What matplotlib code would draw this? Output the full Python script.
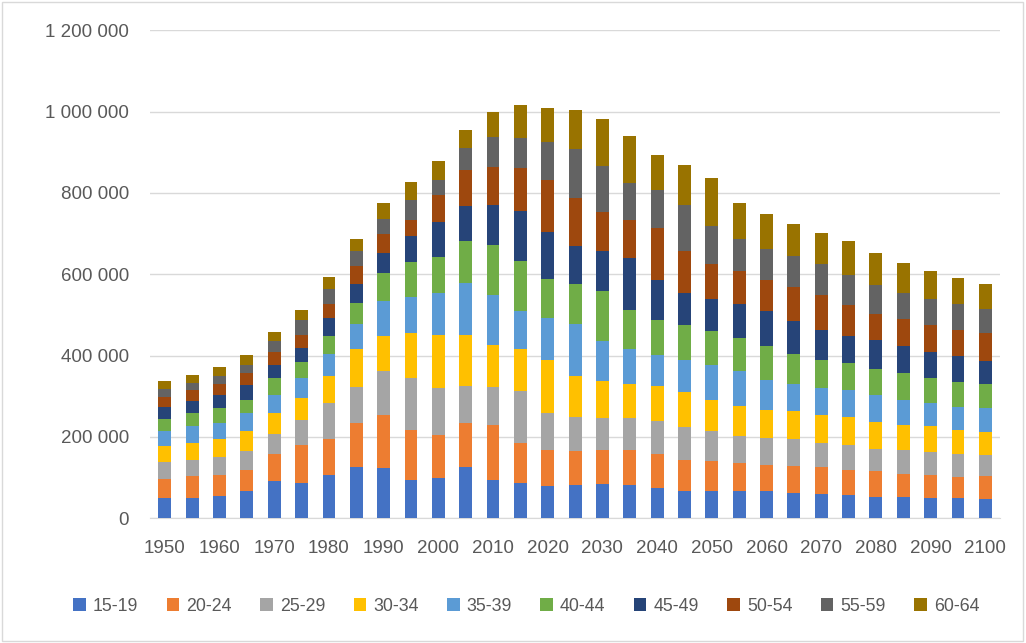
import matplotlib
matplotlib.use("Agg")
import matplotlib.pyplot as plt
import matplotlib.ticker as ticker
import numpy as np

# ── data (thousands) ─────────────────────────────────────────────────────
years = list(range(1950, 2101, 5))
age_groups = ["15-19", "20-24", "25-29", "30-34", "35-39",
              "40-44", "45-49", "50-54", "55-59", "60-64"]

a15_19 = [50, 50, 54, 66, 91, 87, 106, 125, 124, 94, 98, 127, 94, 87, 79, 81,
          84, 82, 74, 67, 66, 66, 66, 62, 59, 56, 53, 53, 51, 49, 48]
a20_24 = [47, 53, 52, 53, 67, 94, 90, 109, 131, 123, 107, 107, 135, 98, 90, 84,
          85, 86, 85, 76, 74, 70, 66, 66, 66, 63, 63, 57, 56, 53, 55]
a25_29 = [42, 41, 45, 47, 49, 61, 88, 88, 108, 129, 115, 90, 94, 127, 90, 84,
          78, 78, 79, 82, 74, 66, 65, 66, 60, 60, 54, 58, 57, 55, 53]
a30_34 = [39, 41, 45, 49, 52, 53, 66, 93, 86, 109, 131, 127, 103, 103, 131, 101,
          90, 84, 86, 86, 78, 74, 70, 70, 70, 69, 67, 62, 62, 60, 56]
a35_39 = [37, 41, 38, 43, 45, 49, 53, 62, 86, 90, 102, 127, 123, 94, 102, 127,
          98, 85, 78, 78, 86, 86, 74, 66, 65, 68, 66, 62, 57, 57, 59]
a40_44 = [30, 33, 37, 33, 41, 41, 45, 53, 67, 86, 90, 103, 123, 123, 97, 98,
          123, 98, 86, 86, 82, 82, 82, 74, 70, 65, 64, 65, 63, 62, 58]
a45_49 = [29, 30, 33, 37, 31, 33, 45, 45, 49, 62, 86, 86, 98, 123, 116, 94,
          98, 127, 98, 78, 78, 82, 86, 82, 74, 66, 71, 66, 64, 62, 57]
a50_54 = [25, 27, 25, 29, 33, 33, 33, 45, 49, 41, 66, 90, 94, 107, 127, 119,
          98, 94, 127, 103, 86, 82, 78, 82, 86, 78, 65, 66, 66, 66, 70]
a55_59 = [20, 16, 20, 21, 26, 37, 37, 37, 37, 49, 37, 53, 74, 74, 94, 119,
          111, 90, 94, 115, 94, 78, 74, 78, 74, 74, 70, 65, 62, 62, 58]
a60_64 = [18, 20, 22, 23, 23, 25, 29, 29, 37, 43, 47, 45, 60, 80, 82, 96,
          117, 115, 86, 98, 119, 90, 86, 78, 78, 82, 78, 74, 70, 65, 62]

series = [a15_19, a20_24, a25_29, a30_34, a35_39,
          a40_44, a45_49, a50_54, a55_59, a60_64]
colors = ["#4472C4", "#ED7D31", "#A5A5A5", "#FFC000", "#5B9BD5",
          "#70AD47", "#264478", "#9E480E", "#636363", "#997300"]

TEXT = "#595959"
FS = 13.5
plt.rcParams.update({
    "font.family": ["Liberation Sans", "DejaVu Sans"],
    "font.size": FS,
})

fig = plt.figure(figsize=(10.26, 6.43), dpi=100)
ax = fig.add_axes([0.146, 0.194, 0.829, 0.759])

x = np.arange(len(years))
bottom = np.zeros(len(years))
for label, vals, col in zip(age_groups, series, colors):
    v = np.array(vals) * 1000
    ax.bar(x, v, width=0.47, bottom=bottom, color=col, label=label, zorder=3)
    bottom += v

ax.set_ylim(0, 1_200_000)
ax.set_xlim(-0.55, len(years) - 0.45)
ax.yaxis.set_major_locator(ticker.MultipleLocator(200_000))
ax.yaxis.set_major_formatter(
    ticker.FuncFormatter(lambda v, _: f"{int(v):,}".replace(",", " ")))
ax.set_xticks(x[::2])
ax.set_xticklabels([str(y) for y in years[::2]])

ax.grid(axis="y", color="#D9D9D9", linewidth=1, zorder=0)
for s in ["top", "right", "left"]:
    ax.spines[s].set_visible(False)
ax.spines["bottom"].set_color("#D9D9D9")
ax.tick_params(axis="both", length=0, colors=TEXT, labelsize=FS)
ax.tick_params(axis="y", pad=15)
ax.tick_params(axis="x", pad=16)

fig.legend(loc="center", bbox_to_anchor=(0.513, 0.057), ncol=10,
           frameon=False, handlelength=0.7, handleheight=0.7,
           handletextpad=0.4, columnspacing=1.6, fontsize=12.8,
           labelcolor=TEXT)

fig.patches.append(plt.Rectangle((0.002, 0.003), 0.995, 0.994,
                                 transform=fig.transFigure, fill=False,
                                 edgecolor="#D9D9D9", linewidth=1))

fig.savefig("out.png", dpi=100)
